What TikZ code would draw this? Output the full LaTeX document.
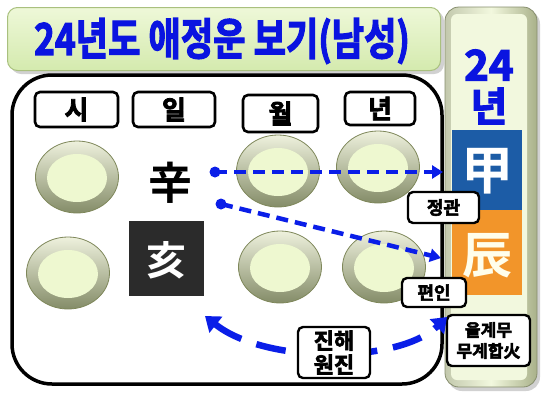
\documentclass[tikz,border=0pt]{standalone}
\usepackage{fontspec}
\newfontfamily\kr{Noto Sans CJK KR}[BoldFont={Noto Sans CJK KR Bold}]
\newfontfamily\krb{Noto Sans CJK KR Bold}[FakeBold=3]
\usetikzlibrary{arrows.meta,shapes.geometric}
\definecolor{titleblue}{HTML}{0A14E0}
\definecolor{arrblue}{HTML}{0A1EE8}
\definecolor{ganblue}{HTML}{1C5CA6}
\definecolor{jiorange}{HTML}{F2952A}
\definecolor{ringtop}{HTML}{EEF1DD}
\definecolor{ringbot}{HTML}{848C68}
\definecolor{ringdraw}{HTML}{7E875A}
\definecolor{orbin}{HTML}{EEF8D0}
\definecolor{titletop}{HTML}{EEF8D8}
\definecolor{titlebot}{HTML}{D4EAAE}
\definecolor{titledraw}{HTML}{A9C07E}
\definecolor{panelside}{HTML}{A9B18A}
\definecolor{panelin}{HTML}{F2F8DE}
\tikzset{
  labelbox/.style={draw=black, line width=2.6pt, rounded corners=5pt, fill=white,
    font=\krb\fontsize{26}{26}\selectfont, inner sep=0pt},
  tagbox/.style={draw=black, line width=2.4pt, rounded corners=5pt, fill=white,
    font=\krb\fontsize{18}{20}\selectfont, inner sep=0pt, align=center},
  orbout/.style={ellipse, draw=ringdraw, line width=0.8pt, top color=ringtop, bottom color=ringbot,
    minimum width=83pt, minimum height=72pt, inner sep=0pt},
  orbinner/.style={ellipse, fill=orbin, minimum width=60pt, minimum height=48pt, inner sep=0pt},
  dasharrow/.style={arrblue, line width=4.5pt, dash pattern=on 12pt off 7pt,
    -{Triangle[length=11pt,width=13pt]}},
  bigchar/.style={font=\kr\bfseries\fontsize{44}{44}\selectfont, inner sep=0pt},
  shadowbox/.style={fill=black!18, rounded corners=#1},
}
\begin{document}
\begin{tikzpicture}[x=1pt,y=-1pt]
\useasboundingbox (0,0) rectangle (546,408);
\fill[white] (0,0) rectangle (546,408);

% title
\fill[shadowbox=10pt] (11,11) rectangle (444,74);
\node[draw=titledraw, line width=1pt, rounded corners=10pt, top color=titletop, bottom color=titlebot,
  minimum width=433pt, minimum height=63pt] (titlebox) at (224,39) {};
\node[font=\krb\fontsize{44}{44}\selectfont, text=titleblue, inner sep=0pt] (title) at (222,41)
  {\scalebox{0.8}[1]{24년도 애정운 보기(남성)}};

% main box
\node[draw=black, line width=3.5pt, rounded corners=40pt, minimum width=430pt, minimum height=309pt,
  inner sep=0pt] (main) at (227,229.5) {};

% column labels
\node[labelbox, minimum width=83pt, minimum height=35pt] (si) at (76.5,109.5) {시};
\node[labelbox, minimum width=82pt, minimum height=35pt] (il) at (174,109.5) {일};
\node[labelbox, minimum width=75pt, minimum height=37pt] (wol) at (280.5,113.5) {월};
\node[labelbox, minimum width=70pt, minimum height=33pt] (nyeon) at (380,108.5) {년};

% orbs
\foreach \n/\x/\y in {o1/77/177, o2/278/171, o3/378/167, o4/68/273, o5/280/267, o6/384/267}{
  \node[orbout] (\n) at (\x,\y) {};
  \node[orbinner] (\n i) at (\x,\y+1) {};
}

% day pillar
\node[bigchar] (sin) at (170,183) {辛};
\node[fill=black!83, minimum width=75pt, minimum height=75pt, inner sep=0pt] (haebox) at (166.5,258.5) {};
\node[bigchar, text=white, font=\kr\bfseries\fontsize{40}{40}\selectfont] (hae) at (166.5,260) {亥};

% right panel
\fill[shadowbox=14pt] (448,10) rectangle (540,391);
\node[draw=panelside!80!black, line width=0.8pt, rounded corners=14pt, left color=panelside!70!white,
  right color=panelside, middle color=panelin, minimum width=92pt, minimum height=380pt] (panel) at (491,197) {};
\node[fill=panelin, rounded corners=6pt, minimum width=76pt, minimum height=366pt] (panelin) at (489,197) {};
\node[font=\krb\fontsize{42}{42}\selectfont, text=titleblue, inner sep=0pt] (p24) at (489,65) {24};
\node[font=\krb\fontsize{40}{40}\selectfont, text=titleblue, inner sep=0pt] (pnyeon) at (489,106) {년};
\node[fill=ganblue, minimum width=70pt, minimum height=80pt, inner sep=0pt] (gan) at (487,170) {};
\node[bigchar, text=white, font=\kr\bfseries\fontsize{52}{52}\selectfont] (gap) at (487,171) {甲};
\node[fill=jiorange, minimum width=70pt, minimum height=85pt, inner sep=0pt] (ji) at (487,252.5) {};
\node[bigchar, text=white!92!yellow, font=\kr\bfseries\fontsize{50}{50}\selectfont] (jin) at (487,256) {辰};

% straight arrows
\coordinate (s1) at (215,172);
\coordinate (e1) at (443,172);
\coordinate (s2) at (221,204);
\coordinate (e2) at (441,258);
\fill[arrblue] (s1) circle (5.5pt);
\fill[arrblue] (s2) circle (5.5pt);
\draw[dasharrow] (s1) -- (e1);
\draw[dasharrow] (s2) -- (e2);

% tags
\node[tagbox, minimum width=71pt, minimum height=31pt] (jg) at (443.5,207.5) {정관};
\node[tagbox, minimum width=64pt, minimum height=29pt] (pi) at (434,292.5) {편인};
\node[tagbox, font=\krb\fontsize{17}{21}\selectfont, minimum width=83pt, minimum height=51pt]
  (eul) at (488.5,340.5) {을계무\\무계합火};

% curved arrow
\coordinate (c1) at (205,316);
\coordinate (c2) at (447,317);
\draw[arrblue, line width=6.5pt, dash pattern=on 30pt off 16pt,
  {Triangle[length=14pt,width=20pt]}-{Triangle[length=14pt,width=20pt]}]
  (c1) .. controls (265,364) and (398,364) .. (c2);

\node[tagbox, font=\krb\fontsize{22}{24}\selectfont, minimum width=72pt, minimum height=51pt]
  (jh) at (334,352.5) {진해\\원진};
\end{tikzpicture}
\end{document}
